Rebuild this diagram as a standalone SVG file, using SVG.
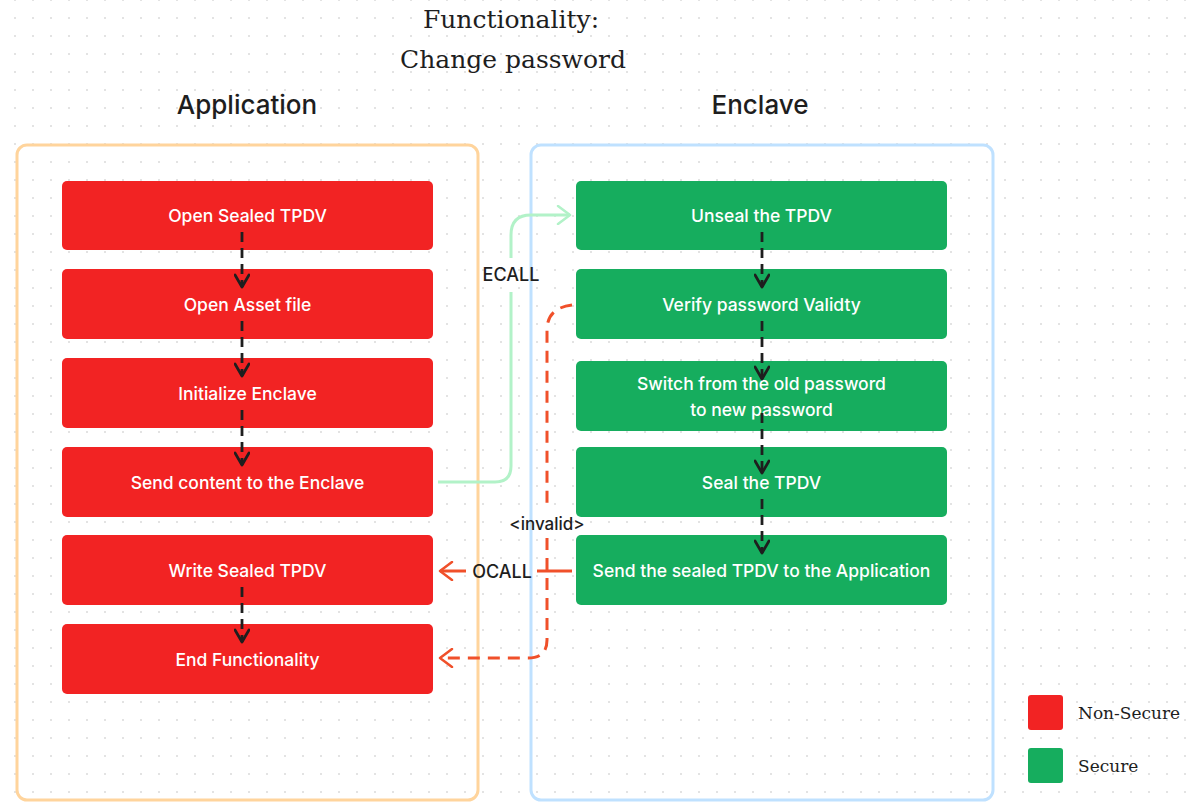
<svg xmlns="http://www.w3.org/2000/svg" width="1188" height="809" viewBox="0 0 1188 809">
<defs>
<pattern id="dots" x="15" y="0" width="18" height="18" patternUnits="userSpaceOnUse">
<circle cx="0" cy="0" r="1" fill="#dadada"/>
<circle cx="18" cy="0" r="1" fill="#dadada"/>
<circle cx="0" cy="18" r="1" fill="#dadada"/>
<circle cx="18" cy="18" r="1" fill="#dadada"/>
</pattern>
<marker id="ablack" viewBox="0 0 16 16" refX="14" refY="8" markerWidth="16" markerHeight="16" markerUnits="userSpaceOnUse" orient="auto">
<path d="M2,1 L14,8 L2,15" fill="none" stroke="#1e1e1e" stroke-width="2.8" stroke-linecap="round" stroke-linejoin="round"/>
</marker>
<marker id="agreen" viewBox="0 0 16 20" refX="14" refY="10" markerWidth="16" markerHeight="20" markerUnits="userSpaceOnUse" orient="auto">
<path d="M2,1 L14,10 L2,19" fill="none" stroke="#b2f2c8" stroke-width="2.5" stroke-linecap="round" stroke-linejoin="round"/>
</marker>
<marker id="ared" viewBox="0 0 16 20" refX="14" refY="10" markerWidth="16" markerHeight="20" markerUnits="userSpaceOnUse" orient="auto">
<path d="M2,1 L14,10 L2,19" fill="none" stroke="#f0502a" stroke-width="2.5" stroke-linecap="round" stroke-linejoin="round"/>
</marker>
</defs>
<style>
.title{font-family:"DejaVu Serif","Liberation Serif",serif;font-size:25px;fill:#1e1e1e;text-anchor:middle}
.head{font-family:Inter,"Liberation Sans",sans-serif;font-size:26px;font-weight:500;fill:#1e1e1e;text-anchor:middle}
.red{fill:#f22323}
.green{fill:#16ad5e}
.lbl{font-family:Inter,"Liberation Sans",sans-serif;font-size:17.5px;font-weight:500;fill:#ffffff;text-anchor:middle}
.conn{font-family:Inter,"Liberation Sans",sans-serif;font-size:18px;font-weight:500;fill:#1e1e1e;text-anchor:middle}
.leg{font-family:"DejaVu Serif","Liberation Serif",serif;font-size:17px;fill:#1e1e1e}
.vflow{fill:none;stroke:#1e1e1e;stroke-width:2.8;stroke-dasharray:10 6}
</style>
<rect width="1188" height="809" fill="#ffffff"/>
<rect width="1188" height="809" fill="url(#dots)"/>

<g id="title">
<text class="title" x="511" y="28">Functionality:</text>
<text class="title" x="513" y="68">Change password</text>
</g>

<g id="application">
<text class="head" x="247" y="114">Application</text>
<rect x="17" y="145" width="461" height="655" rx="10" fill="none" stroke="#ffd49c" stroke-width="3"/>
</g>
<g id="enclave">
<text class="head" x="760" y="114">Enclave</text>
<rect x="531" y="145" width="462" height="655" rx="10" fill="none" stroke="#bfe1ff" stroke-width="3"/>
</g>

<g id="open-sealed"><rect class="red" x="62" y="181" width="371" height="69" rx="5"/><text class="lbl" x="247.5" y="222">Open Sealed TPDV</text></g>
<g id="open-asset"><rect class="red" x="62" y="269" width="371" height="70" rx="5"/><text class="lbl" x="247.5" y="311">Open Asset file</text></g>
<g id="init-enclave"><rect class="red" x="62" y="358" width="371" height="70" rx="5"/><text class="lbl" x="247.5" y="400">Initialize Enclave</text></g>
<g id="send-content"><rect class="red" x="62" y="447" width="371" height="70" rx="5"/><text class="lbl" x="247.5" y="489">Send content to the Enclave</text></g>
<g id="write-sealed"><rect class="red" x="62" y="535" width="371" height="70" rx="5"/><text class="lbl" x="247.5" y="577">Write Sealed TPDV</text></g>
<g id="end"><rect class="red" x="62" y="624" width="371" height="70" rx="5"/><text class="lbl" x="247.5" y="666">End Functionality</text></g>

<g id="unseal"><rect class="green" x="576" y="181" width="371" height="69" rx="5"/><text class="lbl" x="761.5" y="222">Unseal the TPDV</text></g>
<g id="verify"><rect class="green" x="576" y="269" width="371" height="70" rx="5"/><text class="lbl" x="761.5" y="311">Verify password Validty</text></g>
<g id="switch"><rect class="green" x="576" y="361" width="371" height="70" rx="5"/><text class="lbl" x="761.5" y="390">Switch from the old password</text><text class="lbl" x="761.5" y="416">to new password</text></g>
<g id="seal"><rect class="green" x="576" y="447" width="371" height="70" rx="5"/><text class="lbl" x="761.5" y="489">Seal the TPDV</text></g>
<g id="send-sealed"><rect class="green" x="576" y="535" width="371" height="70" rx="5"/><text class="lbl" x="761.5" y="577">Send the sealed TPDV to the Application</text></g>

<g id="legend">
<rect class="red" x="1028" y="695" width="35" height="35" rx="3"/>
<text class="leg" x="1078" y="719">Non-Secure</text>
<rect class="green" x="1028" y="748" width="35" height="35" rx="3"/>
<text class="leg" x="1078" y="772">Secure</text>
</g>

<g id="connectors">
<path class="vflow" d="M242,232 L242,287" marker-end="url(#ablack)"/>
<path class="vflow" d="M242,321 L242,376" marker-end="url(#ablack)"/>
<path class="vflow" d="M242,410 L242,465" marker-end="url(#ablack)"/>
<path class="vflow" d="M242,587 L242,642" marker-end="url(#ablack)"/>
<path class="vflow" d="M762,232 L762,287" marker-end="url(#ablack)"/>
<path class="vflow" d="M762,321 L762,379" marker-end="url(#ablack)"/>
<path class="vflow" d="M762,413 L762,473" marker-end="url(#ablack)"/>
<path class="vflow" d="M762,499 L762,553" marker-end="url(#ablack)"/>

<path d="M438,482 L495,482 Q511,482 511,466 L511,292" fill="none" stroke="#b2f2c8" stroke-width="3"/>
<path d="M511,258 L511,235 Q511,215 531,215 L570,215" fill="none" stroke="#b2f2c8" stroke-width="3" marker-end="url(#agreen)"/>
<text class="conn" x="511" y="281">ECALL</text>

<path d="M572,571 L537,571" fill="none" stroke="#f0502a" stroke-width="3"/>
<path d="M466,571 L440,571" fill="none" stroke="#f0502a" stroke-width="3" marker-end="url(#ared)"/>
<text class="conn" x="502" y="578">OCALL</text>

<path d="M572,305 Q547,308 547,330 L547,510" fill="none" stroke="#f0502a" stroke-width="3" stroke-dasharray="12 8"/>
<path d="M547,538 L547,640 Q547,658 528,658 L440,658" fill="none" stroke="#f0502a" stroke-width="3" stroke-dasharray="12 8" marker-end="url(#ared)"/>
<text class="conn" x="547" y="530" style="font-size:17px">&lt;invalid&gt;</text>
</g>
</svg>
